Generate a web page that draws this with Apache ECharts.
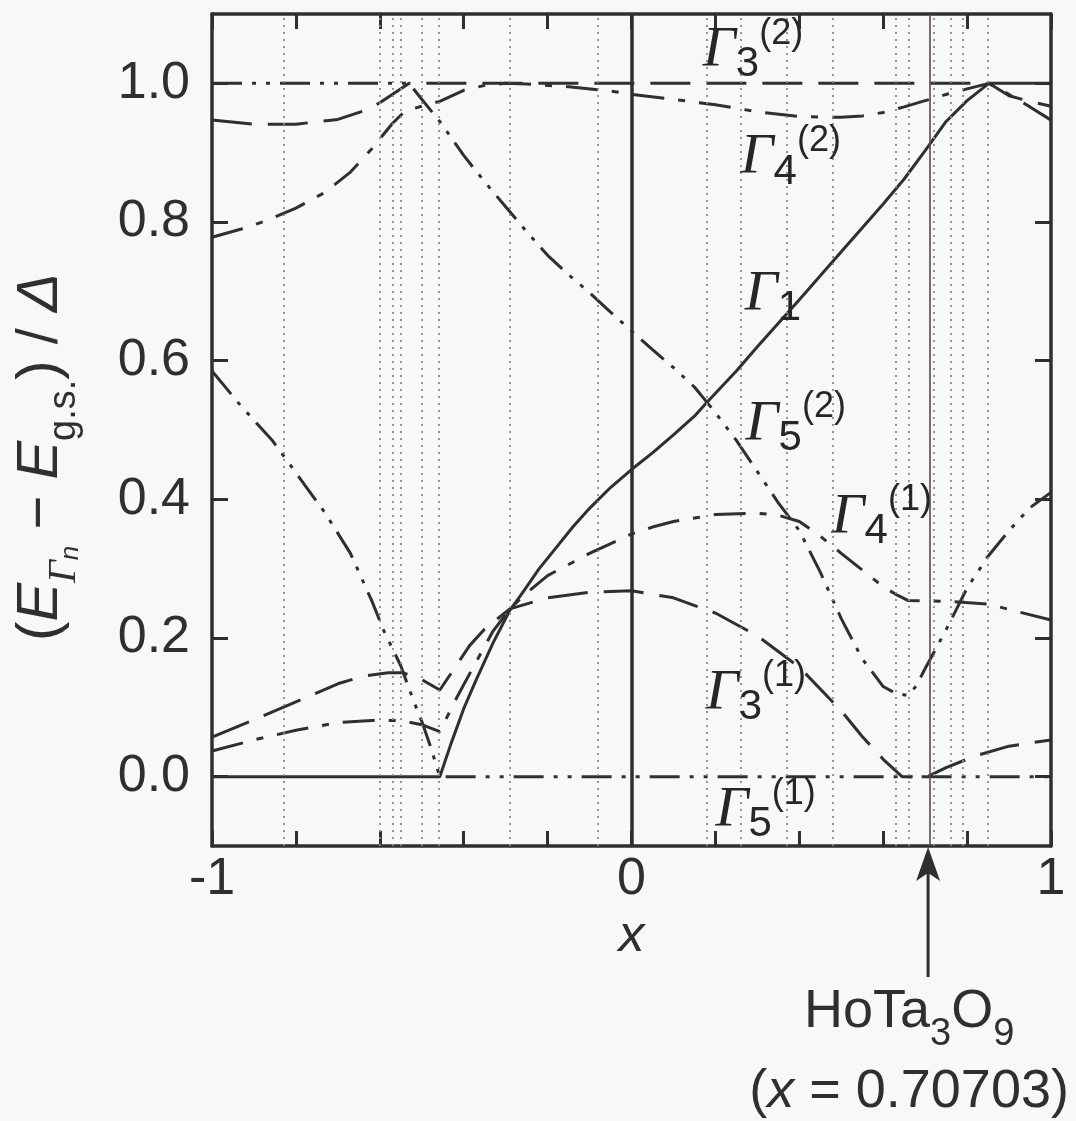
<!DOCTYPE html>
<html><head><meta charset="utf-8">
<script src="https://cdn.jsdelivr.net/npm/echarts@6/dist/echarts.min.js"></script>
<style>html,body{margin:0;padding:0;background:#f8f8f6}#c{width:1076px;height:1121px}</style>
</head><body><div id="c"></div><script>
// ---- data ----
const gamma1 = [[-1,0],[-0.457,0],[-0.43,0.048],[-0.40,0.098],[-0.37,0.14],[-0.33,0.193],[-0.29,0.24],[-0.26,0.265],[-0.22,0.3],[-0.18,0.33],[-0.14,0.36],[-0.1,0.387],[-0.05,0.417],[0,0.443],[0.05,0.467],[0.1,0.493],[0.15,0.52],[0.18,0.54],[0.25,0.585],[0.3,0.62],[0.4,0.688],[0.5,0.757],[0.6,0.826],[0.65,0.862],[0.7,0.903],[0.75,0.945],[0.8,0.975],[0.852,1.0],[1,1.0]];
const gamma3a = [[-1,0.057],[-0.9,0.082],[-0.8,0.108],[-0.7,0.134],[-0.64,0.145],[-0.58,0.15],[-0.545,0.15],[-0.5,0.14],[-0.457,0.125],[-0.42,0.158],[-0.386,0.189],[-0.35,0.213],[-0.29,0.242],[-0.2,0.258],[-0.1,0.266],[0,0.268],[0.1,0.258],[0.2,0.236],[0.3,0.203],[0.4,0.158],[0.5,0.095],[0.55,0.058],[0.6,0.025],[0.645,0],[0.705,0],[0.75,0.013],[0.82,0.03],[0.9,0.044],[1,0.053]];
const gamma3b = [[-1,0.947],[-0.9,0.941],[-0.8,0.941],[-0.7,0.948],[-0.64,0.96],[-0.6,0.972],[-0.53,1.0],[0.852,1.0],[0.9,0.982],[0.95,0.974],[1,0.967]];
const gamma4a = [[-1,0.037],[-0.9,0.053],[-0.8,0.067],[-0.7,0.078],[-0.62,0.081],[-0.55,0.081],[-0.5,0.075],[-0.457,0.065],[-0.42,0.11],[-0.38,0.155],[-0.33,0.21],[-0.29,0.242],[-0.25,0.265],[-0.2,0.29],[-0.1,0.322],[0,0.35],[0.05,0.36],[0.1,0.368],[0.2,0.378],[0.3,0.38],[0.35,0.377],[0.4,0.368],[0.45,0.347],[0.5,0.322],[0.55,0.298],[0.6,0.274],[0.63,0.263],[0.66,0.254],[0.75,0.253],[0.85,0.249],[0.92,0.238],[1,0.226]];
const gamma4b = [[-1,0.778],[-0.93,0.79],[-0.87,0.802],[-0.8,0.82],[-0.73,0.843],[-0.67,0.872],[-0.62,0.905],[-0.57,0.942],[-0.54,0.96],[-0.5,0.967],[-0.457,0.974],[-0.4,0.99],[-0.35,0.997],[-0.3,1.0],[-0.25,0.999],[-0.15,0.995],[-0.05,0.989],[0,0.984],[0.1,0.977],[0.2,0.969],[0.3,0.959],[0.4,0.952],[0.5,0.951],[0.55,0.953],[0.6,0.958],[0.65,0.966],[0.7,0.975],[0.75,0.984],[0.8,0.992],[0.852,1.0],[0.9,0.984],[0.95,0.966],[1,0.947]];
const gamma5a = [[-1,0.585],[-0.93,0.534],[-0.855,0.484],[-0.79,0.43],[-0.73,0.38],[-0.67,0.322],[-0.62,0.255],[-0.59,0.21],[-0.55,0.16],[-0.52,0.11],[-0.5,0.08],[-0.48,0.045],[-0.457,0],[1,0]];
const gamma5b = [[-1,1],[-0.53,1],[-0.5,0.977],[-0.457,0.945],[-0.4,0.896],[-0.35,0.858],[-0.3,0.822],[-0.25,0.786],[-0.2,0.752],[-0.15,0.724],[-0.1,0.698],[-0.05,0.67],[0,0.643],[0.05,0.616],[0.1,0.59],[0.15,0.562],[0.2,0.525],[0.25,0.485],[0.3,0.44],[0.35,0.395],[0.4,0.355],[0.45,0.295],[0.5,0.228],[0.55,0.17],[0.6,0.13],[0.63,0.12],[0.66,0.117],[0.68,0.132],[0.7,0.156],[0.75,0.212],[0.8,0.272],[0.85,0.318],[0.9,0.355],[0.95,0.388],[1,0.41]];
const crossingX = [-0.833,-0.6,-0.574,-0.548,-0.5,-0.457,-0.286,-0.083,0.178,0.259,0.369,0.476,0.631,0.662,0.717,0.757,0.786,0.852];
const hoX = 0.70703;
const xTickValues = [-1,-0.8,-0.6,-0.4,-0.2,0,0.2,0.4,0.6,0.8,1];
const xLabelValues = [-1,0,1];
const yTickValues = [0,0.2,0.4,0.6,0.8,1.0];
const labelPos = [[0.17,1.047],[0.26,0.892],[0.27,0.695],[0.272,0.508],[0.477,0.374],[0.177,0.12],[0.2,-0.049]];
const labelText = ['{g|Γ}{sub|3}{sup|(2)}','{g|Γ}{sub|4}{sup|(2)}','{g|Γ}{sub|1}','{g|Γ}{sub|5}{sup|(2)}','{g|Γ}{sub|4}{sup|(1)}','{g|Γ}{sub|3}{sup|(1)}','{g|Γ}{sub|5}{sup|(1)}'];

// ---- styling ----
const INK = '#2f2f2f';
const SANS = 'Liberation Sans';
const SERIF = 'Liberation Serif';
const DASH_LONG = [40, 16];
const DASH_DOT = [32, 14, 7, 14];
const DASH_DOT_DOT = [30, 10, 4, 10, 4, 10];

function curve(name, data, type) {
  return {type:'line', name, data, symbol:'none', showSymbol:false, silent:true, z:3,
          lineStyle:{color:INK, width:3, type, cap:'butt'}};
}

const guideLines = crossingX.map(v => ({xAxis:v, lineStyle:{type:[2,5], width:1.8, color:'#8a8a8a'}}));
guideLines.push({xAxis:0, lineStyle:{type:'solid', width:3.5, color:INK}});
guideLines.push({xAxis:hoX, lineStyle:{type:'solid', width:1.6, color:'#5e4850'}});

const baseAxisX = {type:'value', min:-1, max:1, interval:0.2,
  axisLine:{onZero:false, lineStyle:{color:INK, width:3.5}},
  axisTick:{inside:true, length:15, lineStyle:{color:INK, width:3}, customValues:xTickValues},
  splitLine:{show:false}};
const baseAxisY = {type:'value', min:-0.1, max:1.1,
  axisLine:{onZero:false, lineStyle:{color:INK, width:3.5}},
  axisTick:{inside:true, length:16, lineStyle:{color:INK, width:3}, customValues:yTickValues},
  splitLine:{show:false}};

const option = {
  animation:false,
  backgroundColor:'#f8f8f6',
  textStyle:{fontFamily:SANS, color:INK},
  grid:{left:212, right:25, top:14, bottom:275, containLabel:false},
  xAxis:[
    Object.assign({}, baseAxisX, {position:'bottom',
      name:'x', nameLocation:'middle', nameGap:62,
      nameTextStyle:{fontFamily:SANS, fontStyle:'italic', fontSize:52, color:INK},
      axisLabel:{show:true, customValues:xLabelValues, margin:8, fontSize:52, fontFamily:SANS, color:INK,
        formatter:v => v < 0 ? '-1' : String(Math.round(v))}}),
    Object.assign({}, baseAxisX, {position:'top', axisLabel:{show:false}})
  ],
  yAxis:[
    Object.assign({}, baseAxisY, {position:'left',
      name:'{p|(}{E|E}{G|Γ}{n|n}{m| − }{E|E}{gs|g.s.}{p|)}{m| / }{D|Δ}',
      nameLocation:'middle', nameRotate:90, nameGap:128,
      nameTextStyle:{padding:[0,54,0,0], color:INK, rich:{
        p:{fontSize:58, fontFamily:SANS, color:INK, lineHeight:86},
        E:{fontSize:58, fontFamily:SANS, fontStyle:'italic', color:INK, lineHeight:86},
        G:{fontSize:40, fontFamily:SERIF, fontStyle:'italic', color:INK, lineHeight:54, verticalAlign:'bottom'},
        n:{fontSize:26, fontFamily:SANS, fontStyle:'italic', color:INK, lineHeight:28, verticalAlign:'bottom'},
        m:{fontSize:58, fontFamily:SANS, color:INK, lineHeight:86},
        gs:{fontSize:38, fontFamily:SANS, color:INK, lineHeight:54, verticalAlign:'bottom'},
        D:{fontSize:58, fontFamily:SANS, fontStyle:'italic', color:INK, lineHeight:86}
      }},
      axisLabel:{show:true, customValues:yTickValues, margin:22, fontSize:52, fontFamily:SANS, color:INK,
        formatter:v => v.toFixed(1)}}),
    Object.assign({}, baseAxisY, {position:'right', axisLabel:{show:false}})
  ],
  series:[
    {type:'line', name:'guides', data:[[0,-0.1]], symbol:'none', silent:true, z:1,
     lineStyle:{width:0},
     markLine:{silent:true, symbol:['none','none'], label:{show:false}, animation:false, data:guideLines}},
    curve('Γ5(1)', gamma5a, DASH_DOT_DOT),
    curve('Γ5(2)', gamma5b, DASH_DOT_DOT),
    curve('Γ3(1)', gamma3a, DASH_LONG),
    curve('Γ3(2)', gamma3b, DASH_LONG),
    curve('Γ4(1)', gamma4a, DASH_DOT),
    curve('Γ4(2)', gamma4b, DASH_DOT),
    curve('Γ1', gamma1, 'solid'),
    {type:'scatter', name:'labels', silent:true, z:5, symbolSize:0,
     itemStyle:{color:'rgba(0,0,0,0)', opacity:1},
     data: labelPos.map((p,i) => ({value:p, label:{formatter:labelText[i]}})),
     label:{show:true, position:'right', distance:0, color:'#262626', rich:{
       g:{fontFamily:SERIF, fontStyle:'italic', fontSize:58, color:'#262626', lineHeight:70, verticalAlign:'middle'},
       sub:{fontFamily:SANS, fontSize:42, color:'#262626', lineHeight:40, verticalAlign:'bottom'},
       sup:{fontFamily:SANS, fontSize:36, color:'#262626', lineHeight:32, verticalAlign:'top'}
     }}}
  ]
};

const chart = echarts.init(document.getElementById('c'));
chart.setOption(option);

const xPix = chart.convertToPixel({xAxisIndex:0}, hoX);
const yBot = chart.convertToPixel({yAxisIndex:0}, -0.1);
chart.setOption({graphic:[
  {type:'line', silent:true, shape:{x1:xPix, y1:yBot+131, x2:xPix, y2:yBot+24}, style:{stroke:INK, lineWidth:3}},
  {type:'polygon', silent:true, shape:{points:[[xPix,yBot+1],[xPix-12,yBot+35],[xPix,yBot+27],[xPix+12,yBot+35]]}, style:{fill:INK}},
  {type:'text', silent:true, x:xPix-19, y:yBot+166, style:{
    text:'{a|HoTa}{s|3}{a|O}{s|9}', align:'center', verticalAlign:'middle',
    rich:{a:{fontFamily:SANS, fontSize:54, fill:INK, lineHeight:84},
          s:{fontFamily:SANS, fontSize:38, fill:INK, lineHeight:40, verticalAlign:'bottom'}}}},
  {type:'text', silent:true, x:xPix-19, y:yBot+246, style:{
    text:'{a|(}{i|x}{a| = 0.70703)}', align:'center', verticalAlign:'middle',
    rich:{a:{fontFamily:SANS, fontSize:54, fill:INK},
          i:{fontFamily:SANS, fontStyle:'italic', fontSize:54, fill:INK}}}}
]});
</script></body></html>
